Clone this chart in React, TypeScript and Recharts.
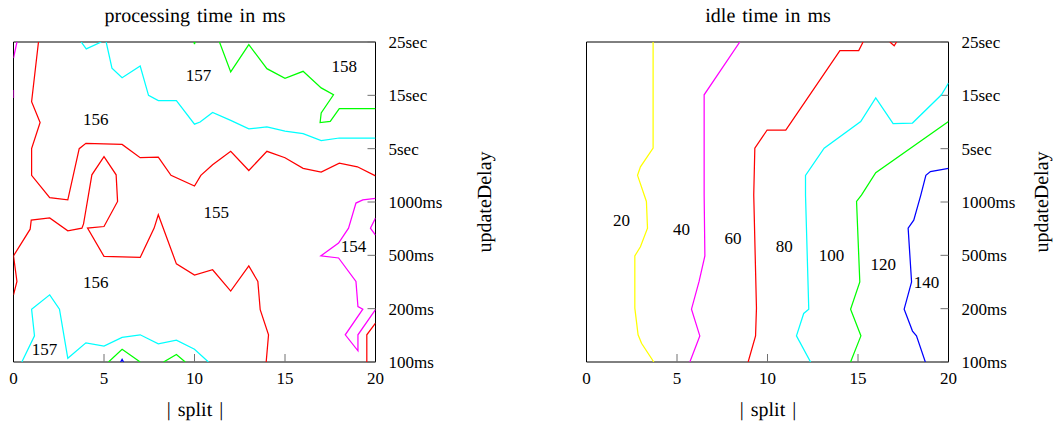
import React from 'react';
import { ScatterChart, Scatter, XAxis, YAxis } from 'recharts';

const FONT = '"Liberation Serif", "Times New Roman", Times, serif';

// axes
const xTicks = [0, 5, 10, 15, 20];
const yTicks = [0, 1, 2, 3, 4, 5, 6];
const yTickLabels = ['100ms', '200ms', '500ms', '1000ms', '5sec', '15sec', '25sec'];
const xDomain = [0, 20];
const yDomain = [0, 6];

// ---------- processing time in ms (left panel) ----------
const proc154a = [[20, 3.07], [19.3, 3.04], [18.92, 2.98], [18.51, 2.51], [17.96, 2.23], [16.98, 1.99], [17.96, 1.95], [18.92, 1.51], [19.03, 1.04], [19.3, 0.99], [18.33, 0.51], [19.03, 0.21], [19.03, 0.51], [20, 0.98]];
const proc154b = [[20, 2.7], [19.72, 2.51], [20, 2.38]];
const proc154c = [[0.19, 6], [0, 5.7]];
const proc154d = [[0, 5.1], [0, 4.95]];
const proc155a = [[1.38, 6], [1, 4.88], [1.47, 4.49], [1, 4], [1, 3.5], [2, 3.08], [3, 3.04], [3.63, 4], [4, 4.1], [6, 4.08], [7, 3.83], [8, 3.84], [8.7, 3.5], [10, 3.3], [10.35, 3.5], [11, 3.7], [12, 3.95], [13, 3.59], [14, 3.95], [15, 3.83], [16, 3.63], [17, 3.56], [18, 3.73], [19, 3.66], [20, 3.49]];
const proc155b = [[0, 1.26], [0.19, 1.51], [0, 1.99], [0.92, 2.49], [0.98, 2.66], [2, 2.7], [3, 2.46], [3.78, 2.51], [3.87, 2.59], [4, 2.85], [4.14, 3.13], [4.33, 3.51], [5, 3.85], [5.67, 3.51], [5.75, 3.01], [5, 2.54], [4.09, 2.51], [5, 1.98], [7, 1.96], [7.77, 2.51], [8, 2.76], [9, 1.84], [10, 1.63], [11, 1.73], [12, 1.33], [13, 1.8], [13.5, 1.51], [13.63, 0.98], [14.09, 0.51], [13.96, 0]];
const proc155c = [[20, 0.73], [19.52, 0.51], [19.52, 0]];
const proc156a = [[3.74, 6], [4.02, 5.87], [4.85, 6]];
const proc156b = [[5.12, 6], [5.44, 5.51], [6, 5.33], [7, 5.55], [7.46, 5], [8, 4.9], [9, 4.9], [10, 4.46], [10.31, 4.5], [11, 4.68], [12, 4.53], [13, 4.37], [14, 4.41], [15, 4.33], [16, 4.28], [17, 4.15], [18, 4.2], [20, 4.2]];
const proc156c = [[0.46, 0], [1.16, 0.49], [1, 0.99], [2, 1.26], [2.54, 0.99], [3, 0.07], [4, 0.36], [5, 0.3], [6, 0.46], [7, 0.51], [8, 0.34], [9, 0.41], [10, 0.24], [10.77, 0]];
const proc157a = [[11.38, 6], [12, 5.44], [13, 5.95], [14, 5.5], [15, 5.32], [16, 5.45], [17, 5.14], [17.68, 5.01], [17, 4.67], [16.94, 4.49], [17.5, 4.51], [18, 4.75], [20, 4.75]];
const proc157b = [[5.25, 0], [6, 0.24], [7, 0]];
const proc157c = [[8.29, 0], [9, 0.14], [9.49, 0]];
const proc157d = [[9.97, 6], [10, 5.96], [10.03, 6]];
const proc158a = [[5.92, 0], [6, 0.05], [6.08, 0]];

const procLabels = [
  { x: 10.22, y: 5.38, t: '157' },
  { x: 18.27, y: 5.54, t: '158' },
  { x: 4.55, y: 4.55, t: '156' },
  { x: 11.2, y: 2.8, t: '155' },
  { x: 18.79, y: 2.17, t: '154' },
  { x: 4.55, y: 1.49, t: '156' },
  { x: 1.71, y: 0.23, t: '157' },
];

// ---------- idle time in ms (right panel) ----------
const idle20 = [[3.68, 6], [3.68, 4.01], [2.98, 3.66], [2.82, 3.5], [3.31, 3.01], [3.37, 2.51], [2.98, 2.16], [2.67, 1.99], [2.67, 1.01], [2.85, 0.51], [3.04, 0.35], [3.72, 0]];
const idle40 = [[8.47, 6], [6.5, 5.01], [6.5, 3.13], [6.54, 1.99], [6.22, 1.51], [5.8, 0.99], [6.26, 0.49], [5.71, 0]];
const idle60a = [[15.28, 6], [15.04, 5.84], [14, 5.84], [11.01, 4.35], [9.98, 4.35], [9.3, 4.01], [9.24, 3.13], [9.39, 1.01], [9.34, 0.49], [8.93, 0]];
const idle60b = [[16.76, 6], [17, 5.93], [17.13, 6]];
const idle80 = [[20, 5.23], [19.61, 5.01], [18.01, 4.48], [16.94, 4.47], [15.98, 4.95], [15.15, 4.51], [13.13, 4.01], [12.1, 3.5], [12.1, 3.13], [12.28, 0.99], [12, 0.91], [11.6, 0.49], [12.38, 0]];
const idle100 = [[20, 4.51], [15.98, 3.55], [15.19, 3.13], [14.92, 3.01], [15.1, 1.5], [14.59, 0.99], [15.16, 0.49], [14.59, 0]];
const idle120 = [[20, 3.63], [19, 3.57], [18.75, 3.5], [18.47, 3.13], [18.08, 2.66], [17.77, 2.51], [17.96, 1.5], [17.55, 0.99], [18.01, 0.58], [18.23, 0.49], [18.72, 0]];

const idleLabels = [
  { x: 1.93, y: 2.65, t: '20' },
  { x: 5.25, y: 2.49, t: '40' },
  { x: 8.1, y: 2.32, t: '60' },
  { x: 10.92, y: 2.16, t: '80' },
  { x: 13.54, y: 1.99, t: '100' },
  { x: 16.39, y: 1.83, t: '120' },
  { x: 18.78, y: 1.5, t: '140' },
];

const RED = '#ff0000';
const MAGENTA = '#ff00ff';
const CYAN = '#00ffff';
const GREEN = '#00ff00';
const BLUE = '#0000ff';
const YELLOW = '#ffff00';

const procContours = [
  { color: MAGENTA, pts: proc154a },
  { color: MAGENTA, pts: proc154b },
  { color: MAGENTA, pts: proc154c },
  { color: MAGENTA, pts: proc154d },
  { color: RED, pts: proc155a },
  { color: RED, pts: proc155b },
  { color: RED, pts: proc155c },
  { color: CYAN, pts: proc156a },
  { color: CYAN, pts: proc156b },
  { color: CYAN, pts: proc156c },
  { color: GREEN, pts: proc157a },
  { color: GREEN, pts: proc157b },
  { color: GREEN, pts: proc157c },
  { color: GREEN, pts: proc157d },
  { color: BLUE, pts: proc158a },
];

const idleContours = [
  { color: YELLOW, pts: idle20 },
  { color: MAGENTA, pts: idle40 },
  { color: RED, pts: idle60a },
  { color: RED, pts: idle60b },
  { color: CYAN, pts: idle80 },
  { color: GREEN, pts: idle100 },
  { color: BLUE, pts: idle120 },
];

// the domain corners, used only so the mirrored frame axes have something bound to them
const frameAnchor = [{ x: xDomain[0], y: yDomain[0] }, { x: xDomain[1], y: yDomain[1] }];

const toData = (pts: number[][]) => pts.map(([x, y]) => ({ x, y }));

const NoShape = () => <g />;

const LabelShape = (props: any) => {
  const { cx, cy, payload } = props;
  return (
    <text x={cx} y={cy} textAnchor="middle" dominantBaseline="central" fontSize={17} fontFamily={FONT} fill="#000">
      {payload.t}
    </text>
  );
};

const tickStyle = { fill: '#000', fontSize: 17, fontFamily: FONT };
const TICK_COLOR = '#707070';

const makeLabel = (value: string, dx: number, dy: number, angle: number) => (props: any) => {
  const vb = props.viewBox || {};
  const cx = Math.round((vb.x || 0) + (vb.width || 0) / 2 + dx);
  const cy = Math.round((vb.y || 0) + (vb.height || 0) / 2 + dy);
  return (
    <g opacity={0.999}>
      <text
        x={cx}
        y={cy}
        textAnchor="middle"
        dominantBaseline="central"
        fontSize={20}
        fontFamily={FONT}
        fill="#000"
        textRendering="geometricPrecision"
        style={{ fill: '#000', wordSpacing: 2 }}
        transform={angle ? `rotate(${angle}, ${cx}, ${cy})` : undefined}
      >
        {value}
      </text>
    </g>
  );
};

function Panel({ title, contours, labels, left, width, yLabelDx }: any) {
  const rightMargin = width - 13.5 - 362 - 60;
  return (
    <div style={{ position: 'absolute', left, top: 0, width, height: 425 }}>
      <ScatterChart width={width} height={425} margin={{ top: 41, right: rightMargin, bottom: 33, left: 12.5 }}>
        <XAxis
          xAxisId="b"
          dataKey="x"
          type="number"
          orientation="bottom"
          domain={xDomain}
          ticks={xTicks}
          interval={0}
          allowDataOverflow
          height={30}
          axisLine={{ stroke: '#000' }}
          tickLine={{ stroke: TICK_COLOR }}
          tickSize={-8}
          tickMargin={18}
          tick={tickStyle}
          label={{ content: makeLabel('| split |', 0, 33, 0) }}
        />
        <XAxis
          xAxisId="t"
          dataKey="x"
          type="number"
          orientation="top"
          domain={xDomain}
          ticks={xTicks}
          interval={0}
          allowDataOverflow
          height={1}
          axisLine={{ stroke: '#000' }}
          tickLine={{ stroke: TICK_COLOR }}
          tickSize={-8}
          tick={false}
          label={{ content: makeLabel(title, 0, -26, 0) }}
        />
        <YAxis
          yAxisId="r"
          dataKey="y"
          type="number"
          orientation="right"
          domain={yDomain}
          ticks={yTicks}
          interval={0}
          allowDataOverflow
          width={60}
          axisLine={{ stroke: '#000' }}
          tickLine={{ stroke: TICK_COLOR }}
          tickSize={-8}
          tickMargin={21}
          tick={tickStyle}
          tickFormatter={(v: number) => yTickLabels[v]}
          label={{ content: makeLabel('updateDelay', yLabelDx, 0, -90) }}
        />
        <YAxis
          yAxisId="l"
          dataKey="y"
          type="number"
          orientation="left"
          domain={yDomain}
          ticks={yTicks}
          interval={0}
          allowDataOverflow
          width={1}
          axisLine={{ stroke: '#000' }}
          tickLine={{ stroke: TICK_COLOR }}
          tickSize={-8}
          tick={false}
        />
        <Scatter xAxisId="t" yAxisId="l" data={frameAnchor} shape={NoShape} isAnimationActive={false} />
        {contours.map((c: any, i: number) => (
          <Scatter
            key={i}
            xAxisId="b"
            yAxisId="r"
            data={toData(c.pts)}
            fill={c.color}
            line={{ stroke: c.color, strokeWidth: 1.25 }}
            shape={NoShape}
            isAnimationActive={false}
          />
        ))}
        <Scatter xAxisId="b" yAxisId="r" data={labels} shape={LabelShape} isAnimationActive={false} />
      </ScatterChart>
    </div>
  );
}

export default function App() {
  return (
    <div style={{ position: 'absolute', left: 0, top: 0, width: 1055, height: 425, background: '#fff', overflow: 'hidden' }}>
      <Panel title="processing time in ms" contours={procContours} labels={procLabels} left={0} width={540} yLabelDx={79} />
      <Panel title="idle time in ms" contours={idleContours} labels={idleLabels} left={573.2} width={480} yLabelDx={63} />
    </div>
  );
}
